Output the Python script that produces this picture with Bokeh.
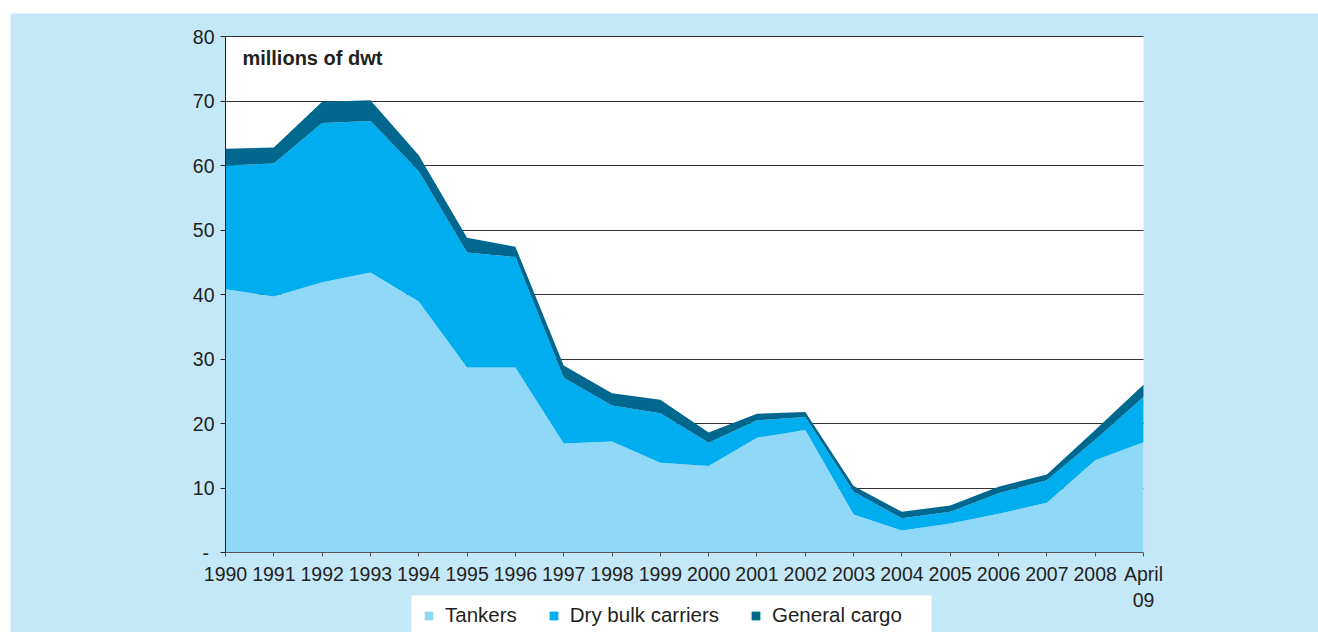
from bokeh.plotting import figure
from bokeh.models import (FixedTicker, Range1d, Legend, LegendItem, Label, BoxAnnotation)
from bokeh.embed import file_html
from bokeh.resources import INLINE

years = ["1990", "1991", "1992", "1993", "1994", "1995", "1996", "1997", "1998", "1999",
         "2000", "2001", "2002", "2003", "2004", "2005", "2006", "2007", "2008", "April\n09"]
tankers = [40.8, 39.7, 41.9, 43.4, 38.9, 28.7, 28.7, 16.9, 17.2, 13.9,
           13.4, 17.8, 19.0, 5.9, 3.4, 4.5, 6.0, 7.7, 14.3, 17.1]
dry_bulk = [19.2, 20.6, 24.7, 23.5, 20.2, 17.8, 17.1, 10.2, 5.6, 7.7,
            3.6, 2.7, 2.0, 3.5, 1.9, 1.8, 3.2, 3.5, 3.2, 7.0]
general_cargo = [2.6, 2.5, 3.3, 3.2, 2.5, 2.3, 1.6, 1.9, 1.9, 2.1,
                 1.6, 1.0, 0.8, 0.9, 1.0, 1.0, 1.0, 0.9, 1.5, 1.9]
y_ticks = [0, 10, 20, 30, 40, 50, 60, 70, 80]
y_tick_labels = ["- ", "10", "20", "30", "40", "50", "60", "70", "80"]
series_names = ["Tankers", "Dry bulk carriers", "General cargo"]
colors = ["#8fd8f7", "#00aeef", "#00678f"]

BG = "#c5e8f8"
TXT = "#231f20"
FONT = "Liberation Sans"

# canvas / plot-area geometry in pixels
W, H = 1318, 632
PL, PR, PT, PB = 225, 1143, 36, 552      # plot area edges
BG_LEFT, BG_TOP = 10, 13                 # start of the light-blue panel
LG_L, LG_R, LG_T = 411, 931, 595         # legend white box

xs = list(range(len(years)))
data = dict(x=xs, tankers=tankers, dry=dry_bulk, gen=general_cargo)

xmax = len(years) - 1
ymax = 80
sx = (PR - PL) / xmax          # px per x unit
sy = (PB - PT) / ymax          # px per y unit
x0 = -PL / sx
x1 = xmax + (W - PR) / sx
y0 = -(H - PB) / sy
y1 = ymax + PT / sy


def px_x(px):
    return x0 + px / sx


def px_y(py):
    return y1 - py / sy


p = figure(width=W, height=H, output_backend="svg", toolbar_location=None,
           x_range=Range1d(x0, x1), y_range=Range1d(y0, y1),
           min_border_left=0, min_border_right=0, min_border_top=0,
           min_border_bottom=0)
p.border_fill_color = "white"
p.background_fill_color = "white"
p.outline_line_color = None

# light-blue panel and white plot area
p.add_layout(BoxAnnotation(left=px_x(BG_LEFT), top=px_y(BG_TOP),
                           fill_color=BG, fill_alpha=1, line_color=None, level="image"))
p.add_layout(BoxAnnotation(left=0, right=xmax, bottom=0, top=ymax,
                           fill_color="white", fill_alpha=1, line_color=None, level="image"))

rs = p.varea_stack(stackers=["tankers", "dry", "gen"], x="x", color=colors, source=data)

# axes
p.xaxis.fixed_location = 0
p.yaxis.fixed_location = 0
p.xaxis.bounds = (0, xmax)
p.yaxis.bounds = (0, ymax)
p.xaxis.ticker = FixedTicker(ticks=xs)
p.xaxis.major_label_overrides = {i: lab for i, lab in enumerate(years)}
p.yaxis.ticker = FixedTicker(ticks=y_ticks)
p.yaxis.major_label_overrides = {t: lab for t, lab in zip(y_ticks, y_tick_labels)}
for ax in (p.xaxis[0], p.yaxis[0]):
    ax.major_label_text_font = FONT
    ax.major_label_text_font_size = "19.5px"
    ax.major_label_text_color = TXT
    ax.minor_tick_line_color = None
    ax.major_tick_in = 0
p.xaxis.major_tick_out = 4
p.xaxis.major_label_standoff = 6
p.xaxis.axis_line_color = "#555555"
p.xaxis.major_tick_line_color = "#555555"
p.yaxis.major_tick_out = 5
p.yaxis.major_label_standoff = 6
p.yaxis.axis_line_color = TXT
p.yaxis.major_tick_line_color = TXT

p.xgrid.grid_line_color = None
p.ygrid.ticker = FixedTicker(ticks=y_ticks[1:])
p.ygrid.cross_bounds = (0, xmax)
p.ygrid.grid_line_color = "#333333"
p.ygrid.grid_line_width = 1

p.add_layout(Label(x=0.35, y=76.6, text="millions of dwt", text_font=FONT,
                   text_font_size="20px", text_font_style="bold", text_color=TXT,
                   text_baseline="middle"))

# legend: white box + transparent legend on top
p.add_layout(BoxAnnotation(left=px_x(LG_L), right=px_x(LG_R), top=px_y(LG_T),
                           fill_color="white", fill_alpha=1, line_color=None))
legend = Legend(items=[LegendItem(label=n, renderers=[r]) for n, r in zip(series_names, rs)],
                orientation="horizontal", location=(423, 5),
                glyph_width=11, glyph_height=11, label_standoff=11, spacing=31,
                padding=12, margin=0, border_line_color=None,
                background_fill_alpha=0.0,
                label_text_font=FONT, label_text_font_size="20.5px",
                label_text_color=TXT)
p.add_layout(legend, "center")

open("out.html", "w").write(file_html(p, INLINE))
